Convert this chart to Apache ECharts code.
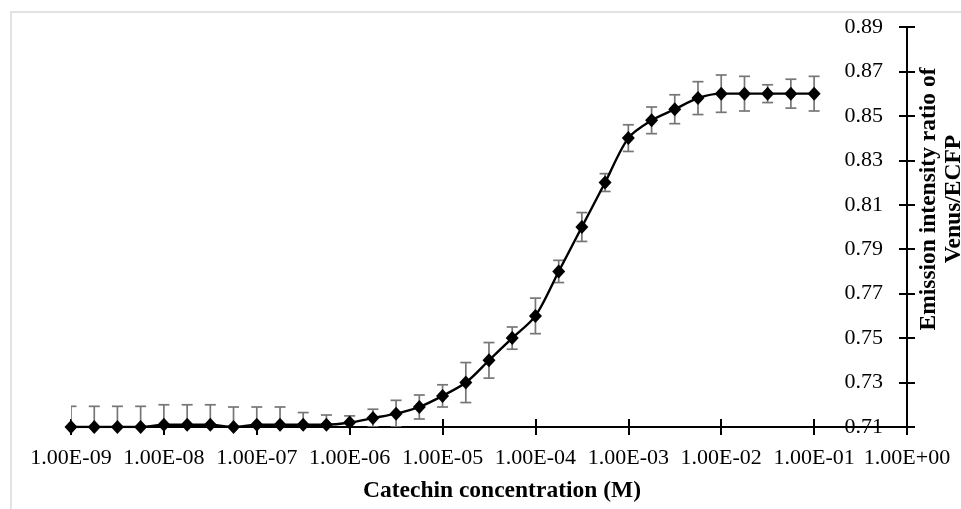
<!DOCTYPE html>
<html>
<head>
<meta charset="utf-8">
<script src="https://cdn.jsdelivr.net/npm/echarts@6/dist/echarts.min.js"></script>
<style>
  html, body { margin: 0; padding: 0; background: #fff; }
  #chart { width: 961px; height: 509px; }
</style>
</head>
<body>
<div id="chart"></div>
<script>
// catechin concentration (M), quarter-decade steps
const concentration = [
  1.00e-9, 1.78e-9, 3.16e-9, 5.62e-9,
  1.00e-8, 1.78e-8, 3.16e-8, 5.62e-8,
  1.00e-7, 1.78e-7, 3.16e-7, 5.62e-7,
  1.00e-6, 1.78e-6, 3.16e-6, 5.62e-6,
  1.00e-5, 1.78e-5, 3.16e-5, 5.62e-5,
  1.00e-4, 1.78e-4, 3.16e-4, 5.62e-4,
  1.00e-3, 1.78e-3, 3.16e-3, 5.62e-3,
  1.00e-2, 1.78e-2, 3.16e-2, 5.62e-2,
  1.00e-1
];
// emission intensity ratio Venus/ECFP
const ratio = [
  0.710, 0.710, 0.710, 0.710,
  0.711, 0.711, 0.711, 0.710,
  0.711, 0.711, 0.711, 0.711,
  0.712, 0.714, 0.716, 0.719,
  0.724, 0.730, 0.740, 0.750,
  0.760, 0.780, 0.800, 0.820,
  0.840, 0.848, 0.853, 0.858,
  0.860, 0.860, 0.860, 0.860,
  0.860
];
// error bar half-length
const errorBar = [
  0.0093, 0.0093, 0.0093, 0.0093,
  0.009, 0.009, 0.009, 0.009,
  0.008, 0.008, 0.0055, 0.0044,
  0.003, 0.004, 0.006, 0.0054,
  0.005, 0.009, 0.008, 0.005,
  0.008, 0.005, 0.0065, 0.004,
  0.006, 0.006, 0.0065, 0.0074,
  0.0084, 0.0078, 0.004, 0.0065,
  0.0078
];
const yTicks = { min: 0.71, max: 0.89, step: 0.02 };
const xTitle = 'Catechin concentration (M)';
const yTitle = 'Emission intensity ratio of\nVenus/ECFP';

const labelFont = 'Liberation Serif';
const titleFont = 'Liberation Serif';

let chart = echarts.init(document.getElementById('chart'));

const lineData = concentration.map((c, i) => [c, ratio[i]]);
const errData = concentration.map((c, i) => [c, ratio[i], errorBar[i]]);

function sciLabel(v) {
  // 1.00E-09 style like the spreadsheet
  const e = Math.round(Math.log10(v));
  const sign = e < 0 ? '-' : '+';
  const a = Math.abs(e);
  return '1.00E' + sign + (a < 10 ? '0' + a : a);
}

let option = {
  backgroundColor: '#fff',
  animation: false,
  grid: {
    left: 71,
    right: 54,
    top: 27,
    bottom: 82,
    containLabel: false,
    outerBoundsMode: 'none'
  },
  graphic: [
    {
      type: 'rect',
      silent: true,
      shape: { x: 11, y: 12, width: 1000, height: 600 },
      style: { fill: 'none', stroke: '#d9d9d9', lineWidth: 1.5 },
      z: -10
    },
    {
      type: 'text',
      x: 502,
      y: 491,
      style: {
        text: xTitle,
        font: 'bold 23.5px "' + titleFont + '"',
        fill: '#000',
        align: 'center',
        verticalAlign: 'middle'
      }
    },
    {
      type: 'text',
      x: 941,
      y: 199,
      rotation: Math.PI / 2,
      style: {
        text: yTitle,
        font: 'bold 23.5px "' + titleFont + '"',
        fill: '#000',
        align: 'center',
        verticalAlign: 'middle',
        lineHeight: 25
      }
    }
  ],
  xAxis: [
    {
      type: 'log',
      logBase: 10,
      min: 1e-9,
      max: 1,
      splitNumber: 9,
      splitLine: { show: false },
      axisLine: { show: true, lineStyle: { color: '#000', width: 2 } },
      axisTick: { show: true, inside: false, length: 8, lineStyle: { color: '#000', width: 2 } },
      axisLabel: {
        show: true,
        margin: 20,
        color: '#000',
        fontFamily: labelFont,
        fontSize: 22,
        formatter: sciLabel
      }
    },
    {
      // ticks on the other side so they cross the axis line
      type: 'log',
      logBase: 10,
      min: 1e-9,
      max: 1,
      splitNumber: 9,
      position: 'bottom',
      offset: 0,
      splitLine: { show: false },
      axisLine: { show: false },
      axisTick: { show: true, inside: true, length: 8, lineStyle: { color: '#000', width: 2 } },
      axisLabel: { show: false }
    }
  ],
  yAxis: [
    {
      type: 'value',
      position: 'right',
      min: yTicks.min,
      max: yTicks.max,
      interval: yTicks.step,
      splitLine: { show: false },
      axisLine: { show: true, lineStyle: { color: '#000', width: 2 } },
      axisTick: { show: true, inside: false, length: 8, lineStyle: { color: '#000', width: 2 } },
      axisLabel: {
        show: true,
        inside: true,
        margin: 24,
        color: '#000',
        fontFamily: labelFont,
        fontSize: 22,
        formatter: (v) => v.toFixed(2)
      }
    },
    {
      type: 'value',
      position: 'right',
      offset: 0,
      min: yTicks.min,
      max: yTicks.max,
      interval: yTicks.step,
      splitLine: { show: false },
      axisLine: { show: false },
      axisTick: { show: true, inside: true, length: 8, lineStyle: { color: '#000', width: 2 } },
      axisLabel: { show: false }
    }
  ],
  series: [
    {
      name: 'error',
      type: 'custom',
      clip: true,
      z: 1,
      data: errData,
      renderItem: (params, api) => {
        const x = api.value(0);
        const y = api.value(1);
        const e = api.value(2);
        const top = api.coord([x, y + e]);
        const bot = api.coord([x, y - e]);
        const cap = 5.5;
        const st = { stroke: '#767676', lineWidth: 1.7 };
        return {
          type: 'group',
          children: [
            { type: 'line', shape: { x1: top[0], y1: top[1], x2: bot[0], y2: bot[1] }, style: st },
            { type: 'line', shape: { x1: top[0] - cap, y1: top[1], x2: top[0] + cap, y2: top[1] }, style: st },
            { type: 'line', shape: { x1: bot[0] - cap, y1: bot[1], x2: bot[0] + cap, y2: bot[1] }, style: st }
          ]
        };
      }
    },
    {
      name: 'ratio',
      type: 'line',
      z: 2,
      smooth: 0.3,
      symbol: 'diamond',
      symbolSize: [13, 14],
      itemStyle: { color: '#000' },
      lineStyle: { color: '#000', width: 2.4 },
      data: lineData
    }
  ]
};

option && chart.setOption(option);
</script>
</body>
</html>
